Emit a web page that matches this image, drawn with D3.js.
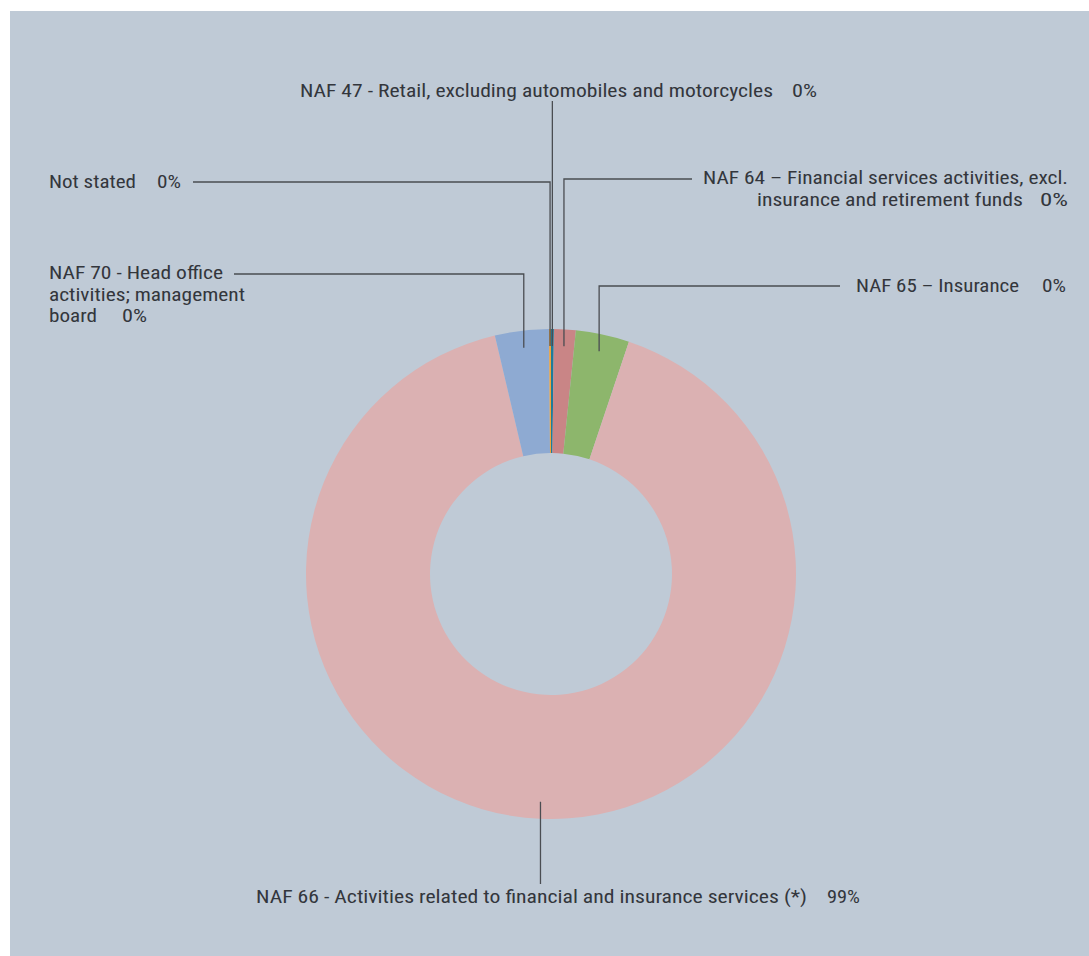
<!DOCTYPE html>
<html>
<head>
<meta charset="utf-8">
<script src="https://cdn.jsdelivr.net/npm/d3@7"></script>
<style>
  html, body { margin: 0; padding: 0; background: #ffffff; }
  svg { display: block; }
  text { font-family: "Liberation Sans Narrow", "Roboto Condensed", "Roboto", sans-serif; fill: #33363c; font-weight: 400; }
</style>
</head>
<body>
<svg id="chart" width="1089" height="956"></svg>
<script>
// ---- data ----
const categories = [
  "NAF 47 - Retail, excluding automobiles and motorcycles",
  "NAF 64 – Financial services activities, excl. insurance and retirement funds",
  "NAF 65 – Insurance",
  "NAF 66 - Activities related to financial and insurance services (*)",
  "NAF 70 - Head office activities; management board",
  "Not stated"
];
const values = [0.19, 1.43, 3.53, 91.17, 3.55, 0.13];
const percentLabels = ["0%", "0%", "0%", "99%", "0%", "0%"];
const labelLines = [
  ["NAF 47 - Retail, excluding automobiles and motorcycles"],
  ["NAF 64 – Financial services activities, excl.", "insurance and retirement funds"],
  ["NAF 65 – Insurance"],
  ["NAF 66 - Activities related to financial and insurance services (*)"],
  ["NAF 70 - Head office", "activities; management", "board"],
  ["Not stated"]
];
const colors = ["#1f7b99", "#c98586", "#8db66c", "#dbb1b2", "#8eaad2", "#f0a23a"];

// ---- layout ----
const W = 1089, H = 956;
const cx = 551, cy = 574, rOuter = 245, rInner = 121, rLeader = 228;
const fontSize = 18.5, lineH = 21.5;
const layout = [
  { elbowY: 101, endX: null, tx: 300, ty: 97, anchor: "start", widths: [473], pctX: 792, pctW: 25 },
  { elbowY: 179, endX: 692, tx: 1068, ty: 184, anchor: "end", widths: [365, 266], pctX: 1040, pctW: 28 },
  { elbowY: 286, endX: 840, tx: 856, ty: 292, anchor: "start", widths: [163], pctX: 1042, pctW: 24 },
  { elbowY: 884, endX: null, tx: 256, ty: 903, anchor: "start", widths: [551], pctX: 827, pctW: 33 },
  { elbowY: 274, endX: 234, tx: 49, ty: 279, anchor: "start", widths: [174, 196, 48], pctX: 122, pctW: 25 },
  { elbowY: 182, endX: 193, tx: 49, ty: 188, anchor: "start", widths: [87], pctX: 157, pctW: 24 }
];

const data = categories.map((c, i) => ({ name: c, value: values[i], pct: percentLabels[i], lines: labelLines[i], color: colors[i], lay: layout[i] }));

const svg = d3.select("#chart");
svg.append("rect").attr("x", 10).attr("y", 11).attr("width", W - 10).attr("height", H - 11).attr("fill", "#bfcad6");

const pie = d3.pie().sort(null).value(d => d.value).startAngle(0).endAngle(2 * Math.PI);
const arcs = pie(data);
const arc = d3.arc().innerRadius(rInner).outerRadius(rOuter);
const leaderArc = d3.arc().innerRadius(rLeader).outerRadius(rLeader);

const g = svg.append("g").attr("transform", `translate(${cx},${cy})`);
g.selectAll("path.slice").data(arcs).join("path")
  .attr("class", "slice")
  .attr("d", arc)
  .attr("fill", d => d.data.color);

// leader lines
const lines = svg.append("g");
arcs.forEach(a => {
  const [px, py] = leaderArc.centroid(a);
  const x0 = cx + px, y0 = cy + py;
  const L = a.data.lay;
  const pts = [[x0, y0], [x0, L.elbowY]];
  if (L.endX !== null) pts.push([L.endX, L.elbowY]);
  lines.append("path")
    .attr("d", d3.line()(pts))
    .attr("fill", "none")
    .attr("stroke", "#4a4d52")
    .attr("stroke-width", 1.3);
});

// labels
const labels = svg.append("g").attr("font-size", fontSize);
data.forEach(d => {
  const L = d.lay;
  const n = d.lines.length;
  d.lines.forEach((line, j) => {
    const y = L.ty + j * lineH;
    const isLast = j === n - 1;
    const w = L.widths[j];
    let x;
    if (L.anchor === "end") {
      const rightEdge = isLast ? L.pctX - 17 : L.tx;
      x = rightEdge - w;
    } else {
      x = L.tx;
    }
    labels.append("text")
      .attr("x", x).attr("y", y)
      .attr("textLength", w).attr("lengthAdjust", "spacingAndGlyphs")
      .text(line);
    if (isLast) {
      labels.append("text")
        .attr("x", L.pctX).attr("y", y)
        .attr("textLength", L.pctW).attr("lengthAdjust", "spacingAndGlyphs")
        .text(d.pct);
    }
  });
});
</script>
</body>
</html>
